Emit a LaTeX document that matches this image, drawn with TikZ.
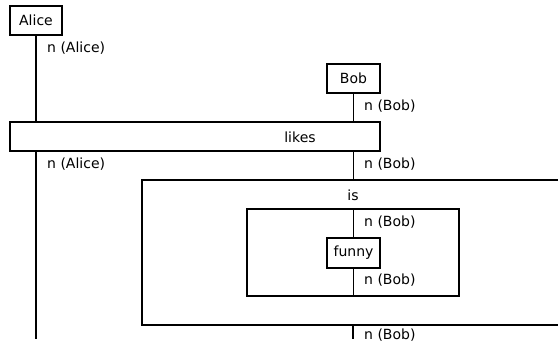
\documentclass[tikz,border=0pt]{standalone}
\usepackage{fontspec}
\setmainfont{DejaVu Sans}
\begin{document}
\begin{tikzpicture}[x=1pt,y=-1pt,
  box/.style={draw,line width=1.3pt,rectangle,inner sep=0pt,font=\fontsize{14}{16}\selectfont},
  wire/.style={line width=1.3pt},
  lab/.style={anchor=west,inner sep=0pt,font=\fontsize{14}{16}\selectfont},
  txt/.style={inner sep=0pt,font=\fontsize{14}{16}\selectfont}]
\useasboundingbox (0,0) rectangle (558,343);
\clip (0,0) rectangle (558,343);
% nodes
\node[box,minimum width=52pt,minimum height=29pt] (alice) at (36,20.5) {Alice};
\node[box,minimum width=53pt,minimum height=29pt] (bob) at (353.5,78.5) {Bob};
\node[box,minimum width=370pt,minimum height=29pt] (likes) at (195,136.5) {};
\node[txt] (likestxt) at (300,137) {likes};
\node[box,minimum width=440pt,minimum height=145pt] (is) at (362,252.5) {};
\node[txt] (istxt) at (353,195) {is};
\node[box,minimum width=212pt,minimum height=87pt] (inner) at (353,252.5) {};
\node[box,minimum width=53pt,minimum height=30pt] (funny) at (353.5,253) {funny};
\coordinate (aliceend) at (36,339);
\coordinate (bobend) at (353,339);
% wires
\draw[wire] (alice.south) -- (alice.south |- likes.north);
\draw[wire] (alice.south |- likes.south) -- (aliceend);
\draw[wire] (bob.south) -- (bob.south |- likes.north);
\draw[wire] (bob.south |- likes.south) -- (bob.south |- is.north);
\draw[wire] (funny.north |- inner.north) -- (funny.north);
\draw[wire] (funny.south) -- (funny.south |- inner.south);
\draw[wire] (bobend |- is.south) -- (bobend);
% labels
\node[lab] (la1) at (47,48) {n (Alice)};
\node[lab] (lb1) at (364,106) {n (Bob)};
\node[lab] (la2) at (47,164) {n (Alice)};
\node[lab] (lb2) at (364,164) {n (Bob)};
\node[lab] (lb3) at (364,222) {n (Bob)};
\node[lab] (lb4) at (364,280) {n (Bob)};
\node[lab] (lb5) at (364,335) {n (Bob)};
\end{tikzpicture}
\end{document}
